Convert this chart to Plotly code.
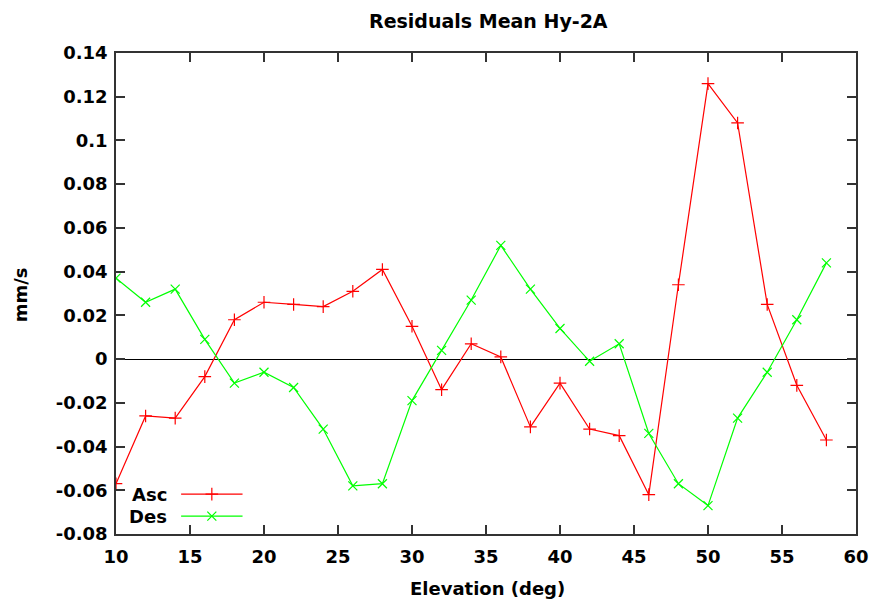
import plotly.graph_objects as go

# Elevation bins (deg)
elevation = [10, 12, 14, 16, 18, 20, 22, 24, 26, 28, 30, 32, 34, 36, 38,
             40, 42, 44, 46, 48, 50, 52, 54, 56, 58]

# Mean residuals (mm/s) for ascending and descending passes
asc = [-0.057, -0.026, -0.027, -0.008, 0.018, 0.026, 0.025, 0.024, 0.031,
       0.041, 0.015, -0.014, 0.007, 0.001, -0.031, -0.011, -0.032, -0.035,
       -0.062, 0.034, 0.126, 0.108, 0.025, -0.012, -0.037]
des = [0.037, 0.026, 0.032, 0.009, -0.011, -0.006, -0.013, -0.032, -0.058,
       -0.057, -0.019, 0.004, 0.027, 0.052, 0.032, 0.014, -0.001, 0.007,
       -0.034, -0.057, -0.067, -0.027, -0.006, 0.018, 0.044]

x_ticks = [10, 15, 20, 25, 30, 35, 40, 45, 50, 55, 60]
y_ticks = [0.14, 0.12, 0.1, 0.08, 0.06, 0.04, 0.02, 0, -0.02, -0.04, -0.06, -0.08]
y_tick_text = ["0.14", "0.12", "0.1", "0.08", "0.06", "0.04", "0.02", "0",
               "-0.02", "-0.04", "-0.06", "-0.08"]

series_names = ["Asc", "Des"]
series_colors = ["#ff0000", "#00ff00"]
series_symbols = ["cross-thin", "x-thin"]

FONT = "DejaVu Sans, sans-serif"
TXT = dict(family=FONT, size=18, color="black", weight="bold")

fig = go.Figure()
for name, vals, col, sym in zip(series_names, [asc, des], series_colors, series_symbols):
    fig.add_trace(go.Scatter(
        x=elevation, y=vals, mode="lines+markers", name=name,
        line=dict(color=col, width=1.2),
        marker=dict(symbol=sym, size=9, line=dict(color=col, width=1.2), color=col),
        showlegend=False,
    ))

# Key in the lower-left corner: label, then a line sample with its marker
key_y = [0.083, 0.037]
for name, col, sym, ky in zip(series_names, series_colors, series_symbols, key_y):
    fig.add_trace(go.Scatter(
        x=[0.088, 0.171], y=[ky, ky], mode="lines", xaxis="x2", yaxis="y2",
        line=dict(color=col, width=1.2), showlegend=False, hoverinfo="skip",
    ))
    fig.add_trace(go.Scatter(
        x=[0.1295], y=[ky], mode="markers", xaxis="x2", yaxis="y2",
        marker=dict(symbol=sym, size=9, line=dict(color=col, width=1.2), color=col),
        showlegend=False, hoverinfo="skip",
    ))
    fig.add_annotation(
        x=0.071, y=ky, xref="x2", yref="y2", text=name, showarrow=False,
        xanchor="right", yanchor="middle", font=TXT,
    )

# Axis titles and chart title
fig.add_annotation(x=0.502, y=-0.114, xref="paper", yref="paper",
                   text="Elevation (deg)", showarrow=False,
                   xanchor="center", yanchor="middle", font=TXT)
fig.add_annotation(x=-0.128, y=0.497, xref="paper", yref="paper",
                   text="mm/s", showarrow=False, textangle=-90,
                   xanchor="center", yanchor="middle", font=TXT)
fig.add_annotation(x=0.503, y=1.067, xref="paper", yref="paper",
                   text="Residuals Mean Hy-2A", showarrow=False,
                   xanchor="center", yanchor="middle",
                   font=dict(family=FONT, size=19, color="black", weight="bold"))

axis_common = dict(
    showgrid=False, showline=True, linecolor="#333333", linewidth=1.5,
    mirror="ticks", ticks="inside", ticklen=9, tickcolor="#333333", tickwidth=1.5,
    tickfont=TXT, automargin=False,
)

fig.update_layout(
    width=872, height=603,
    margin=dict(l=116, r=16, t=53, b=69, autoexpand=False),
    paper_bgcolor="white", plot_bgcolor="white",
    xaxis=dict(range=[10, 60], tickvals=x_ticks, zeroline=False,
               ticklabelstandoff=6, **axis_common),
    yaxis=dict(range=[-0.08, 0.14], tickvals=y_ticks, ticktext=y_tick_text,
               zeroline=True, zerolinecolor="black", zerolinewidth=1.3,
               ticklabelstandoff=3, **axis_common),
    xaxis2=dict(range=[0, 1], overlaying="x", visible=False),
    yaxis2=dict(range=[0, 1], overlaying="y", visible=False),
)

fig.write_html("out.html")
